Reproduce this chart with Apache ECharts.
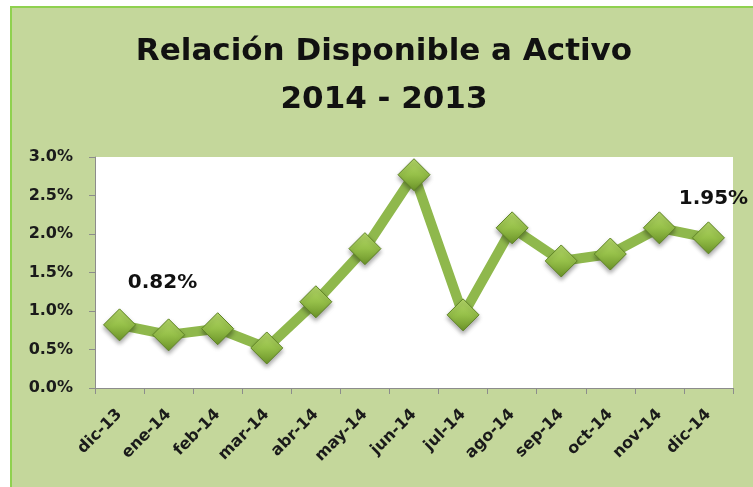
<!DOCTYPE html>
<html>
<head>
<meta charset="utf-8">
<script src="https://cdn.jsdelivr.net/npm/echarts@6/dist/echarts.min.js"></script>
<style>
  html, body { margin: 0; padding: 0; background: #ffffff; }
  #chart { width: 753px; height: 487px; }
</style>
</head>
<body>
<div id="chart"></div>
<script>
// Monthly ratio of available funds to assets (%)
const months = ['dic-13', 'ene-14', 'feb-14', 'mar-14', 'abr-14', 'may-14', 'jun-14',
                'jul-14', 'ago-14', 'sep-14', 'oct-14', 'nov-14', 'dic-14'];
const ratio = [0.82, 0.69, 0.77, 0.52, 1.12, 1.81, 2.77, 0.95, 2.08, 1.65, 1.74, 2.08, 1.95];
const yTicks = [0, 0.5, 1.0, 1.5, 2.0, 2.5, 3.0];
const titleLines = ['Relación Disponible a Activo', '2014 - 2013'];
// Only the first and last points carry a value label
const labelledIdx = [0, 12];

const font = '"DejaVu Sans", Verdana, sans-serif';

const chart = echarts.init(document.getElementById('chart'), null, { renderer: 'canvas' });

const markerFill = new echarts.graphic.LinearGradient(0, 0, 0, 1, [
  { offset: 0, color: '#b5d86a' },
  { offset: 0.5, color: '#96c049' },
  { offset: 1, color: '#6a9228' }
]);

const seriesData = ratio.map((v, i) => {
  const item = { value: v };
  if (labelledIdx.includes(i)) {
    item.label = {
      show: true,
      formatter: (p) => p.value.toFixed(2) + '%',
      position: 'top',
      offset: i === 0 ? [43, -11] : [5, -8],
      fontFamily: font,
      fontWeight: 'bold',
      fontSize: 20,
      color: '#111111'
    };
  }
  return item;
});

chart.setOption({
  backgroundColor: '#ffffff',
  animation: false,
  graphic: [
    {
      type: 'rect',
      z: -10,
      shape: { x: 11, y: 7, width: 760, height: 500 },
      style: { fill: '#c4d79b', stroke: '#8fd14f', lineWidth: 2 }
    },
    {
      type: 'text',
      x: 384, y: 52, z: 10,
      style: {
        text: titleLines[0],
        font: 'bold 31px ' + font,
        fill: '#111111',
        textAlign: 'center',
        textVerticalAlign: 'middle'
      }
    },
    {
      type: 'text',
      x: 384, y: 100, z: 10,
      style: {
        text: titleLines[1],
        font: 'bold 31px ' + font,
        fill: '#111111',
        textAlign: 'center',
        textVerticalAlign: 'middle'
      }
    }
  ],
  grid: {
    left: 95, right: 20, top: 157, bottom: 99,
    show: true, backgroundColor: '#ffffff', borderWidth: 0
  },
  xAxis: {
    type: 'category',
    data: months,
    boundaryGap: true,
    axisLine: { lineStyle: { color: '#8c8c8c', width: 1 } },
    axisTick: { show: true, alignWithLabel: false, length: 6, lineStyle: { color: '#8c8c8c' } },
    axisLabel: {
      interval: 0, rotate: 45, margin: 24,
      fontFamily: font, fontWeight: 'bold', fontSize: 16, color: '#1a1a1a'
    },
    splitLine: { show: false }
  },
  yAxis: {
    type: 'value',
    min: yTicks[0],
    max: yTicks[yTicks.length - 1],
    interval: 0.5,
    axisLine: { show: true, lineStyle: { color: '#8c8c8c', width: 1 } },
    axisTick: { show: true, length: 6, lineStyle: { color: '#8c8c8c' } },
    axisLabel: {
      margin: 22,
      formatter: (v) => v.toFixed(1) + '%',
      fontFamily: font, fontWeight: 'bold', fontSize: 16, color: '#1a1a1a'
    },
    splitLine: { show: false }
  },
  series: [{
    type: 'line',
    data: seriesData,
    symbol: 'diamond',
    symbolSize: [32, 32],
    lineStyle: { color: '#8fb84c', width: 10 },
    itemStyle: {
      color: markerFill,
      borderColor: '#5f8426',
      borderWidth: 1,
      shadowColor: 'rgba(0,0,0,0.35)',
      shadowBlur: 4,
      shadowOffsetY: 3
    },
    emphasis: { disabled: true }
  }]
});
</script>
</body>
</html>
